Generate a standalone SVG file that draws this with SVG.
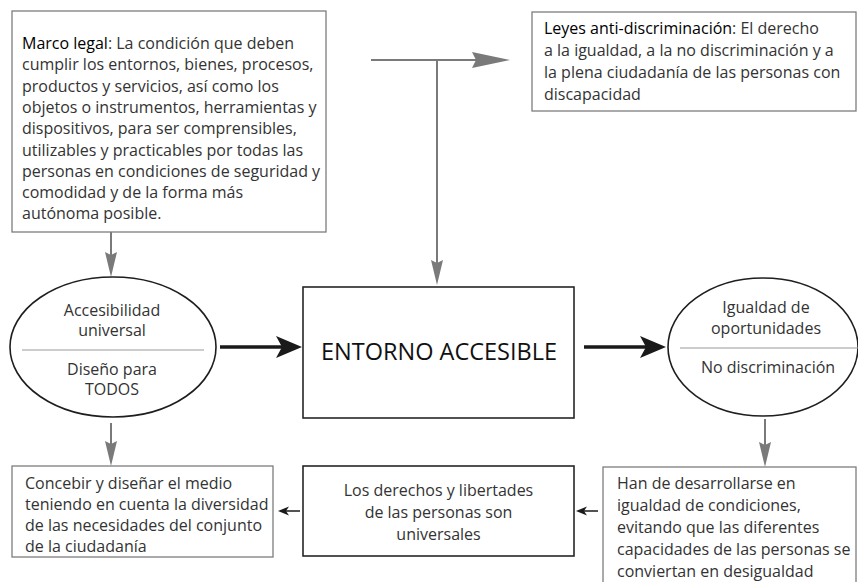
<svg xmlns="http://www.w3.org/2000/svg" width="858" height="582" viewBox="0 0 858 582">
<style>
.bg{fill:#fff}
.gbox{fill:#fff;stroke:#7d7d7d;stroke-width:1.3}
.kbox{fill:#fff;stroke:#262626;stroke-width:1.6}
.ell{fill:#fff;stroke:#1e1e1e;stroke-width:1.6}
.sep{stroke:#9a9a9a;stroke-width:1}
.t{font-family:"Open Sans","Noto Sans","DejaVu Sans",sans-serif;font-size:16px;font-weight:400;fill:#333}
.c{text-anchor:middle}
.b{font-weight:500;fill:#000}
.big{font-size:23.5px;fill:#111}
.gline{fill:none;stroke:#7a7a7a;stroke-width:2}
.kline{fill:none;stroke:#1a1a1a;stroke-width:3.6}
.sline{fill:none;stroke:#1a1a1a;stroke-width:1.5}
</style>
<defs>
<marker id="ga" markerUnits="userSpaceOnUse" viewBox="-10 -10 40 20" refX="0" refY="0" markerWidth="40" markerHeight="20" orient="auto" overflow="visible">
<path d="M22,0 L-3,-6 L0,0 L-3,6 Z" fill="#7a7a7a"/>
</marker>
<marker id="gah" markerUnits="userSpaceOnUse" viewBox="-10 -10 50 20" refX="0" refY="0" markerWidth="50" markerHeight="20" orient="auto" overflow="visible">
<path d="M34,0 L-4,-8 L0,0 L-4,8 Z" fill="#7a7a7a"/>
</marker>
<marker id="ka" markerUnits="userSpaceOnUse" viewBox="-10 -12 40 24" refX="0" refY="0" markerWidth="40" markerHeight="24" orient="auto" overflow="visible">
<path d="M20,0 L-6,-11 L0,0 L-6,11 Z" fill="#1a1a1a"/>
</marker>
<marker id="sa" markerUnits="userSpaceOnUse" viewBox="-10 -6 20 12" refX="0" refY="0" markerWidth="20" markerHeight="12" orient="auto" overflow="visible">
<path d="M8,0 L-3,-4.5 L0,0 L-3,4.5 Z" fill="#1a1a1a"/>
</marker>
</defs>
<rect class="bg" x="0" y="0" width="858" height="582"/>

<g id="connectors">
<path class="gline" d="M371,60 H476" marker-end="url(#gah)"/>
<path class="gline" d="M437,61 V263" marker-end="url(#ga)"/>
<path class="gline" d="M111,232 V255" marker-end="url(#ga)"/>
<path class="gline" d="M111,423 V444" marker-end="url(#ga)"/>
<path class="gline" d="M765,419 V445" marker-end="url(#ga)"/>
<path class="kline" d="M220,347 H282" marker-end="url(#ka)"/>
<path class="kline" d="M584,347 H646" marker-end="url(#ka)"/>
<path class="sline" d="M300,511 H286" marker-end="url(#sa)"/>
<path class="sline" d="M598,511 H584" marker-end="url(#sa)"/>
</g>

<g id="marco-legal">
<rect class="gbox" x="12" y="11" width="314" height="221"/>
<text class="t" x="22" y="49"><tspan class="b">Marco legal</tspan>: La condición que deben</text>
<text class="t" x="22" y="70.3">cumplir los entornos, bienes, procesos,</text>
<text class="t" x="22" y="91.6">productos y servicios, así como los</text>
<text class="t" x="22" y="112.9">objetos o instrumentos, herramientas y</text>
<text class="t" x="22" y="134.2">dispositivos, para ser comprensibles,</text>
<text class="t" x="22" y="155.5">utilizables y practicables por todas las</text>
<text class="t" x="22" y="176.8">personas en condiciones de seguridad y</text>
<text class="t" x="22" y="198.1">comodidad y de la forma más</text>
<text class="t" x="22" y="219.4">autónoma posible.</text>
</g>

<g id="leyes">
<rect class="gbox" x="532" y="12" width="324" height="99"/>
<text class="t" x="544" y="34"><tspan class="b">Leyes anti-discriminación</tspan>: El derecho</text>
<text class="t" x="544" y="56">a la igualdad, a la no discriminación y a</text>
<text class="t" x="544" y="78">la plena ciudadanía de las personas con</text>
<text class="t" x="544" y="100">discapacidad</text>
</g>

<g id="accesibilidad">
<ellipse class="ell" cx="113" cy="347" rx="103" ry="70"/>
<line class="sep" x1="22" y1="350" x2="204" y2="350"/>
<text class="t c" x="112" y="316">Accesibilidad</text>
<text class="t c" x="112" y="336">universal</text>
<text class="t c" x="112" y="375">Diseño para</text>
<text class="t c" x="112" y="395">TODOS</text>
</g>

<g id="entorno">
<rect class="kbox" x="303" y="287" width="271" height="131"/>
<text class="t c big" x="439" y="360">ENTORNO ACCESIBLE</text>
</g>

<g id="igualdad">
<ellipse class="ell" cx="763" cy="347" rx="95" ry="69"/>
<line class="sep" x1="680" y1="348" x2="858" y2="348"/>
<text class="t c" x="766" y="313">Igualdad de</text>
<text class="t c" x="766" y="334">oportunidades</text>
<text class="t c" x="768" y="373">No discriminación</text>
</g>

<g id="concebir">
<rect class="gbox" x="12" y="466" width="261" height="91"/>
<text class="t" x="25" y="489">Concebir y diseñar el medio</text>
<text class="t" x="25" y="510">teniendo en cuenta la diversidad</text>
<text class="t" x="25" y="531">de las necesidades del conjunto</text>
<text class="t" x="25" y="552">de la ciudadanía</text>
</g>

<g id="derechos">
<rect class="kbox" x="303" y="466" width="271" height="90"/>
<text class="t c" x="438.5" y="496">Los derechos y libertades</text>
<text class="t c" x="438.5" y="518">de las personas son</text>
<text class="t c" x="438.5" y="540">universales</text>
</g>

<g id="han-de">
<rect class="gbox" x="603" y="467" width="253" height="130"/>
<text class="t" x="617" y="489">Han de desarrollarse en</text>
<text class="t" x="617" y="511">igualdad de condiciones,</text>
<text class="t" x="617" y="533">evitando que las diferentes</text>
<text class="t" x="617" y="555">capacidades de las personas se</text>
<text class="t" x="617" y="577">conviertan en desigualdad</text>
</g>
</svg>
